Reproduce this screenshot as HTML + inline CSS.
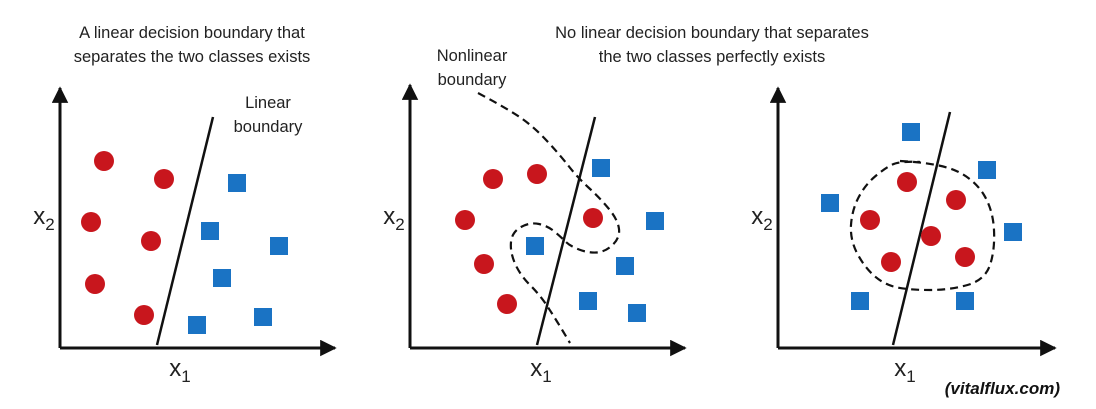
<!DOCTYPE html>
<html><head><meta charset="utf-8">
<style>
html,body{margin:0;padding:0;background:#fff;}
svg{display:block;font-family:"Liberation Sans",sans-serif;}
</style></head>
<body>
<svg id="fig" width="1096" height="409" viewBox="0 0 1096 409">
<defs>
<marker id="arr" viewBox="0 0 10 10" refX="9" refY="5" markerWidth="5.5" markerHeight="5.5" orient="auto-start-reverse"><path d="M0,0 L10,5 L0,10 z" fill="#111"/></marker>
</defs>
<text x="192" y="38" font-size="16.5" text-anchor="middle" fill="#222">A linear decision boundary that</text>
<text x="192" y="62" font-size="16.5" text-anchor="middle" fill="#222">separates the two classes exists</text>
<text x="712" y="38" font-size="16.5" text-anchor="middle" fill="#222">No linear decision boundary that separates</text>
<text x="712" y="62" font-size="16.5" text-anchor="middle" fill="#222">the two classes perfectly exists</text>
<text x="268" y="108" font-size="16.5" text-anchor="middle" fill="#222">Linear</text>
<text x="268" y="132" font-size="16.5" text-anchor="middle" fill="#222">boundary</text>
<text x="472" y="61" font-size="16.5" text-anchor="middle" fill="#222">Nonlinear</text>
<text x="472" y="85" font-size="16.5" text-anchor="middle" fill="#222">boundary</text>
<text x="1060" y="394" font-size="17" font-weight="bold" font-style="italic" text-anchor="end" fill="#111">(vitalflux.com)</text>
<g id="panels"></g>
</svg>
<script>
const panelOrigins = [[60, 348], [410, 348], [778, 348]];
const axisTops = [88, 85, 88];
const axisRights = [335, 685, 1055];
const circlesP1 = [[44,187],[104,169],[31,126],[91,107],[35,64],[84,33]];
const squaresP1 = [[177,165],[150,117],[219,102],[162,70],[203,31],[137,23]];
const circlesP2 = [[83,169],[127,174],[55,128],[183,130],[74,84],[97,44]];
const squaresP2 = [[191,180],[245,127],[125,102],[215,82],[178,47],[227,35]];
const circlesP3 = [[129,166],[178,148],[92,128],[153,112],[113,86],[187,91]];
const squaresP3 = [[133,216],[209,178],[52,145],[235,116],[82,47],[187,47]];
const linesP = [[[97,3],[153,231]], [[127,3],[185,231]], [[115,3],[172,236]]];
const dashP2 = [[68,255],[100,238],[125,220],[150,193],[168,170],[190,150],[208,128],[210,110],[195,96],[178,95],[160,102],[152,110],[138,122],[120,126],[102,116],[100,96],[110,73],[130,53],[145,30],[160,5]];
const dashP3 = [[122,187],[162,185],[197,168],[215,138],[217,98],[207,68],[172,58],[132,58],[107,63],[87,80],[72,108],[74,138],[87,163],[107,180],[122,187],[162,185]];
const circleSets = [circlesP1, circlesP2, circlesP3];
const squareSets = [squaresP1, squaresP2, squaresP3];
const dashSets = [null, dashP2, dashP3];
const xLabels = ['x','x','x'];
const NS = 'http://www.w3.org/2000/svg';
const g = document.getElementById('panels');
function mk(tag, attrs){const e=document.createElementNS(NS,tag);for(const k in attrs)e.setAttribute(k,attrs[k]);g.appendChild(e);return e;}
panelOrigins.forEach((o,i)=>{
  const X = v => o[0] + v, Y = v => o[1] - v;
  let a = mk('line',{x1:o[0],y1:o[1],x2:o[0],y2:axisTops[i],stroke:'#111','stroke-width':3,'marker-end':'url(#arr)'});
  
  
  a = mk('line',{x1:o[0],y1:o[1],x2:axisRights[i],y2:o[1],stroke:'#111','stroke-width':3,'marker-end':'url(#arr)'});
  
  
  let t = mk('text',{x:o[0]-16,y:Y(124),'font-size':24,'text-anchor':'middle',fill:'#222'});
  t.innerHTML = 'x<tspan font-size="17" dy="6">2</tspan>';
  
  
  const xc = [180, 541, 905][i];
  t = mk('text',{x:xc,y:o[1]+28,'font-size':24,'text-anchor':'middle',fill:'#222'});
  t.innerHTML = xLabels[i] + '<tspan font-size="17" dy="6">1</tspan>';
  
  
  const L = linesP[i];
  const ln = mk('line',{x1:X(L[0][0]),y1:Y(L[0][1]),x2:X(L[1][0]),y2:Y(L[1][1]),stroke:'#111','stroke-width':2.5});
  
  
  if (dashSets[i]) {
    const pts = dashSets[i].map(p=>[X(p[0]),Y(p[1])]);
    let d = 'M'+pts[0][0]+','+pts[0][1];
    for (let k=1;k<pts.length-1;k++){const mx=(pts[k][0]+pts[k+1][0])/2,my=(pts[k][1]+pts[k+1][1])/2;d+=' Q'+pts[k][0]+','+pts[k][1]+' '+mx+','+my;}
    if (i===1) d+=' L'+pts[pts.length-1][0]+','+pts[pts.length-1][1];
    const p = mk('path',{d:d,fill:'none',stroke:'#111','stroke-width':2.2,'stroke-dasharray':'8,5'});
    
    
  }
  circleSets[i].forEach(c=>{
    const e = mk('circle',{cx:X(c[0]),cy:Y(c[1]),r:10,fill:'#c8161d'});
    
    
  });
  squareSets[i].forEach(s=>{
    const e = mk('rect',{x:X(s[0])-9,y:Y(s[1])-9,width:18,height:18,fill:'#1a73c4'});
    
    
  });
});
</script>
</body></html>
